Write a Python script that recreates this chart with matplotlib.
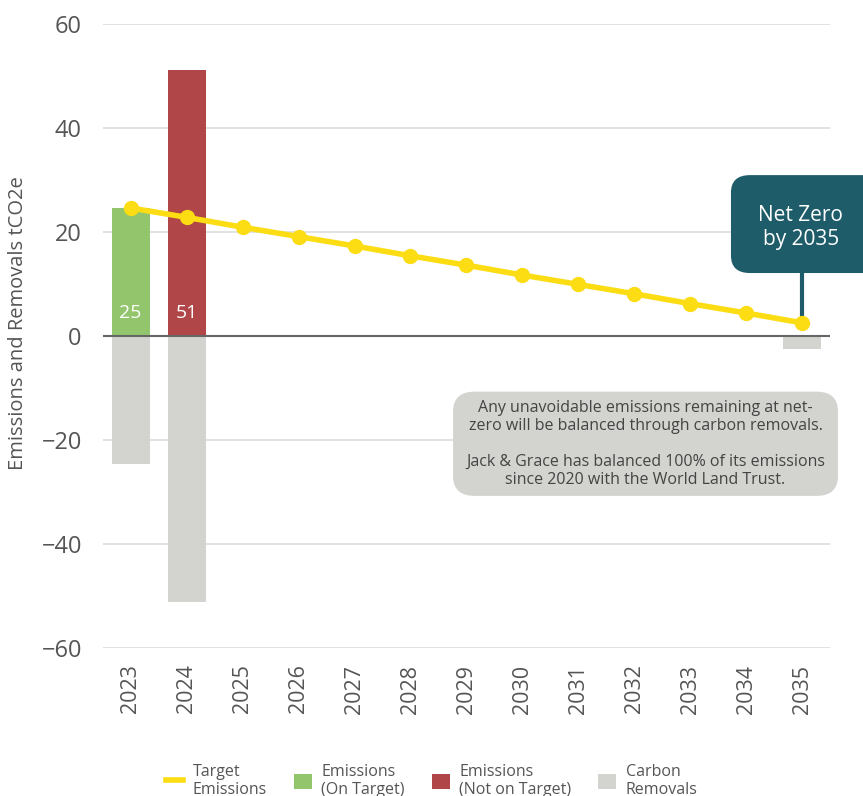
import matplotlib
matplotlib.use("Agg")
import matplotlib.pyplot as plt
from matplotlib.patches import FancyBboxPatch, Patch
from matplotlib.lines import Line2D

plt.rcParams['font.family'] = ['Open Sans', 'DejaVu Sans']

years = ['2023', '2024', '2025', '2026', '2027', '2028', '2029',
         '2030', '2031', '2032', '2033', '2034', '2035']
target = [24.6, 22.8, 20.9, 19.1, 17.3, 15.4, 13.6, 11.7, 9.9, 8.1, 6.2, 4.4, 2.5]
on_target = [24.6, 0, 0, 0, 0, 0, 0, 0, 0, 0, 0, 0, 0]
not_on_target = [0, 51.2, 0, 0, 0, 0, 0, 0, 0, 0, 0, 0, 0]
removals = [-24.6, -51.2, 0, 0, 0, 0, 0, 0, 0, 0, 0, 0, -2.5]

GREEN = '#93c56d'
RED = '#b04648'
GREY = '#d3d3cf'
YELLOW = '#fcdc12'
TEAL = '#1d5c68'
TXT = '#555555'

fig = plt.figure(figsize=(8.63, 7.96), dpi=100)
ax = fig.add_axes([0.119, 0.186, 0.843, 0.784])

x = list(range(len(years)))
w = 0.68
ax.bar(x, removals, width=w, color=GREY, zorder=2)
ax.bar(x, on_target, width=w, color=GREEN, zorder=2)
ax.bar(x, not_on_target, width=w, color=RED, zorder=2)
ax.axhline(0, color='#666666', lw=1.5, zorder=3)
ax.plot(x, target, color=YELLOW, lw=4, marker='o', markersize=10, zorder=4)

# value labels inside emission bars
for i in x:
    v = on_target[i] + not_on_target[i]
    if v > 0:
        ax.text(i, 4.5, f'{round(v)}', color='white', ha='center', va='center',
                fontsize=14, zorder=5)

ax.set_xlim(-0.5, 12.5)
ax.set_ylim(-60, 60)
ax.set_yticks([-60, -40, -20, 0, 20, 40, 60])
ax.set_xticks(x)
ax.set_xticklabels(years, rotation=90)
ax.grid(axis='y', color='#dddddd', lw=1.2, zorder=0)
ax.set_axisbelow(True)
for s in ax.spines.values():
    s.set_visible(False)
ax.tick_params(axis='y', length=0, pad=15, labelsize=17, labelcolor=TXT)
ax.tick_params(axis='x', length=0, pad=12, labelsize=15.5, labelcolor=TXT)
ax.set_ylabel('Emissions and Removals tCO2e', fontsize=14.5, color=TXT)
ax.yaxis.set_label_coords(-0.102, 0.521)

# Net Zero callout
ax.plot([12, 12], [2.5, 12.1], color=TEAL, lw=3, zorder=3)
box = FancyBboxPatch((0.847, 0.657), 0.2, 0.123,
                     boxstyle='round,pad=0,rounding_size=0.022',
                     transform=fig.transFigure, facecolor=TEAL, edgecolor='none')
fig.patches.append(box)
fig.text(0.928, 0.714, 'Net Zero\nby 2035', color='white', ha='center',
         va='center', fontsize=15, linespacing=1.2)

# note box
note = FancyBboxPatch((0.525, 0.377), 0.446, 0.131,
                      boxstyle='round,pad=0,rounding_size=0.025',
                      transform=fig.transFigure, facecolor=GREY, edgecolor='none')
fig.patches.append(note)
fig.text(0.748, 0.442,
         'Any unavoidable emissions remaining at net-\n'
         'zero will be balanced through carbon removals.\n\n'
         'Jack & Grace has balanced 100% of its emissions\n'
         'since 2020 with the World Land Trust.',
         color='#444444', ha='center', va='center', fontsize=11.5, linespacing=1.18)

handles = [Line2D([0], [0], color=YELLOW, lw=4),
           Patch(facecolor=GREEN), Patch(facecolor=RED), Patch(facecolor=GREY)]
labels = ['Target\nEmissions', 'Emissions\n(On Target)',
          'Emissions\n(Not on Target)', 'Carbon\nRemovals']
leg = fig.legend(handles, labels, loc='lower center', bbox_to_anchor=(0.5, -0.02),
                 ncol=4, frameon=False, fontsize=11.5, handlelength=1.1,
                 handleheight=1.1, columnspacing=1.7, handletextpad=0.6)
for t in leg.get_texts():
    t.set_color(TXT)
    t.set_multialignment('left')
    t.set_linespacing(1.15)

fig.savefig('out.png', dpi=100)
